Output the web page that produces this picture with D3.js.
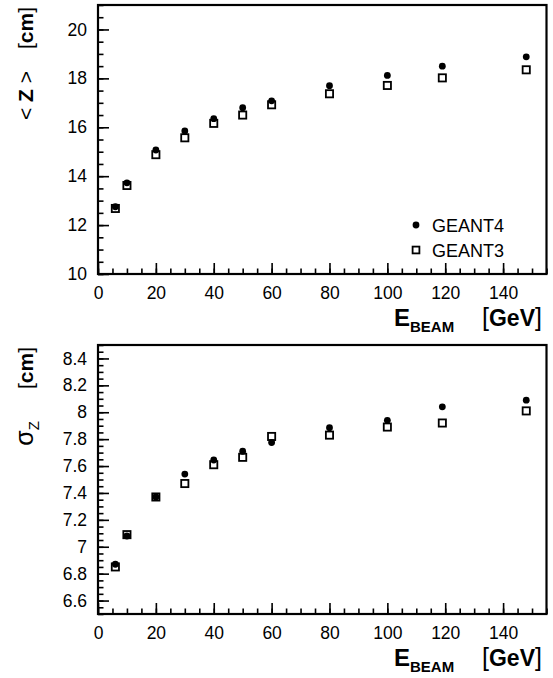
<!DOCTYPE html>
<html>
<head>
<meta charset="utf-8">
<script src="https://cdn.jsdelivr.net/npm/d3@7"></script>
<style>
  body { margin: 0; background: #fff; }
  text { font-family: "Liberation Sans", Arial, sans-serif; fill: #000; }
</style>
</head>
<body>
<script>
/* global d3 */

// Data
const energies = [6, 10, 20, 30, 40, 50, 60, 80, 100, 119, 148];
const meanZGeant4 = [12.75, 13.73, 15.07, 15.85, 16.35, 16.8, 17.08, 17.7, 18.12, 18.5, 18.88];
const meanZGeant3 = [12.68, 13.62, 14.88, 15.57, 16.16, 16.5, 16.92, 17.37, 17.71, 18.02, 18.35];
const sigmaZGeant4 = [6.87, 7.08, 7.37, 7.54, 7.645, 7.71, 7.775, 7.885, 7.94, 8.04, 8.09];
const sigmaZGeant3 = [6.85, 7.09, 7.37, 7.47, 7.61, 7.665, 7.82, 7.83, 7.89, 7.92, 8.01];

const xTicks = [0, 20, 40, 60, 80, 100, 120, 140];
const meanZTicks = [10, 12, 14, 16, 18, 20];
const sigmaZTicks = [6.6, 6.8, 7, 7.2, 7.4, 7.6, 7.8, 8, 8.2, 8.4];
const seriesNames = ['GEANT4', 'GEANT3'];

// Layout
const width = 553;
const height = 678;
const left = 98;
const right = 546.5;
const panelHeight = 269;

const svg = d3.select('body')
  .append('svg')
  .attr('width', width)
  .attr('height', height);

const xScale = d3.scaleLinear().domain([0, 155]).range([left, right]);

function drawPanel(top, yDomain, yTicks, yMinor, g4, g3) {
  const bottom = top + panelHeight;
  const yScale = d3.scaleLinear().domain(yDomain).range([bottom, top]);
  const g = svg.append('g');

  // minor ticks
  g.append('g')
    .attr('transform', `translate(0,${bottom})`)
    .call(d3.axisBottom(xScale).tickValues(d3.range(0, 156, 5)).tickSize(-5.5).tickFormat(''))
    .call((a) => a.select('.domain').remove());
  g.append('g')
    .attr('transform', `translate(${left},0)`)
    .call(d3.axisLeft(yScale).tickValues(yMinor).tickSize(-5.5).tickFormat(''))
    .call((a) => a.select('.domain').remove());

  // major ticks + labels
  const xAxisG = g.append('g')
    .attr('transform', `translate(0,${bottom})`)
    .call(d3.axisBottom(xScale).tickValues(xTicks).tickSize(-11).tickPadding(13));
  xAxisG.select('.domain').remove();
  const yAxisG = g.append('g')
    .attr('transform', `translate(${left},0)`)
    .call(d3.axisLeft(yScale).tickValues(yTicks).tickSize(-11).tickPadding(11)
      .tickFormat(d3.format('~g')));
  yAxisG.select('.domain').remove();

  g.selectAll('.tick line').attr('stroke', '#000').attr('stroke-width', 1.6);
  g.selectAll('.tick text').attr('font-size', '17.5px').attr('fill', '#000');

  // frame
  g.append('rect')
    .attr('x', left)
    .attr('y', top)
    .attr('width', right - left)
    .attr('height', panelHeight)
    .attr('fill', 'none')
    .attr('stroke', '#000')
    .attr('stroke-width', 2.2);

  // GEANT3 squares
  g.append('g')
    .selectAll('rect')
    .data(energies.map((e, i) => [e, g3[i]]))
    .join('rect')
    .attr('x', (d) => xScale(d[0]) - 3.6)
    .attr('y', (d) => yScale(d[1]) - 3.6)
    .attr('width', 7.2)
    .attr('height', 7.2)
    .attr('fill', '#fff')
    .attr('stroke', '#000')
    .attr('stroke-width', 1.8);

  // GEANT4 dots
  g.append('g')
    .selectAll('circle')
    .data(energies.map((e, i) => [e, g4[i]]))
    .join('circle')
    .attr('cx', (d) => xScale(d[0]))
    .attr('cy', (d) => yScale(d[1]))
    .attr('r', 3.4)
    .attr('fill', '#000');

  // x axis title
  const xt = g.append('text')
    .attr('x', 394)
    .attr('y', bottom + 52)
    .attr('font-weight', 'bold');
  xt.append('tspan').attr('font-size', '24px').text('E');
  xt.append('tspan').attr('font-size', '15px').attr('dy', 6).text('BEAM');
  const xu = g.append('text')
    .attr('x', 482)
    .attr('y', bottom + 52);
  xu.append('tspan').attr('font-size', '25px').text('[');
  xu.append('tspan').attr('font-size', '23px').attr('font-weight', 'bold').text('GeV');
  xu.append('tspan').attr('font-size', '25px').text(']');

  return g;
}

// Top panel: mean longitudinal position
const topPanel = drawPanel(5, [10, 21], meanZTicks, d3.range(20, 43).map((d) => d / 2),
  meanZGeant4, meanZGeant3);

const yl1 = topPanel.append('text')
  .attr('transform', 'translate(33,7) rotate(-90)')
  .attr('text-anchor', 'end')
  .attr('font-size', '21px');
yl1.append('tspan').text('< ');
yl1.append('tspan').attr('font-weight', 'bold').text('Z');
yl1.append('tspan').text(' >');
yl1.append('tspan').attr('dx', 22).text('[');
yl1.append('tspan').attr('font-weight', 'bold').text('cm');
yl1.append('tspan').text(']');

// legend
const legend = topPanel.append('g').attr('transform', 'translate(416,225)');
legend.append('circle').attr('r', 3.4).attr('fill', '#000');
legend.append('rect')
  .attr('x', -3.4).attr('y', 21.6).attr('width', 6.8).attr('height', 6.8)
  .attr('fill', '#fff').attr('stroke', '#000').attr('stroke-width', 1.8);
legend.selectAll('text.lab')
  .data(seriesNames)
  .join('text')
  .attr('class', 'lab')
  .attr('x', 16)
  .attr('y', (d, i) => i * 25 + 6.5)
  .attr('font-size', '18px')
  .text((d) => d);

// Bottom panel: longitudinal spread
const botPanel = drawPanel(345, [6.5, 8.5], sigmaZTicks, d3.range(130, 171).map((d) => d / 20),
  sigmaZGeant4, sigmaZGeant3);

const yl2 = botPanel.append('text')
  .attr('transform', 'translate(33,347) rotate(-90)')
  .attr('text-anchor', 'end')
  .attr('font-size', '21px');
yl2.append('tspan').attr('font-size', '25px').text('σ');
yl2.append('tspan').attr('font-size', '15px').attr('dy', 6).text('Z');
yl2.append('tspan').attr('dy', -6).attr('dx', 32).text('[');
yl2.append('tspan').attr('font-weight', 'bold').text('cm');
yl2.append('tspan').text(']');
</script>
</body>
</html>
